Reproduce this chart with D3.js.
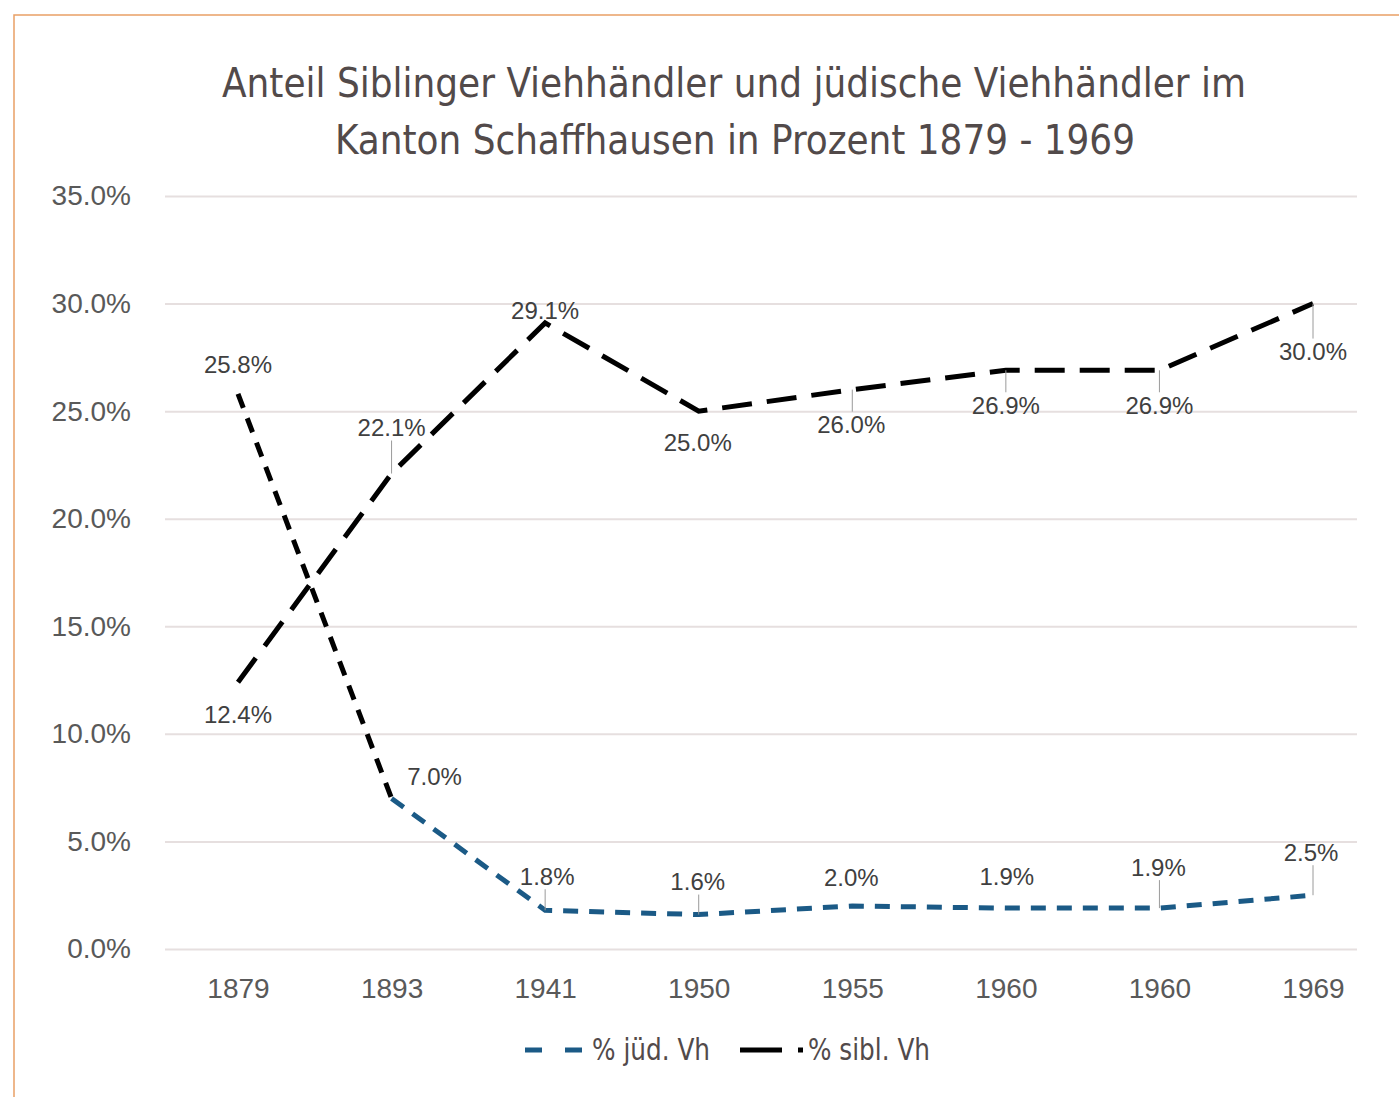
<!DOCTYPE html>
<html>
<head>
<meta charset="utf-8">
<script src="https://cdn.jsdelivr.net/npm/d3@7.9.0/dist/d3.min.js"></script>
<style>
  body { margin: 0; background: #fff; }
  svg { display: block; }
</style>
</head>
<body>
<svg width="1399" height="1097"></svg>
<script>
// data
const years = ['1879', '1893', '1941', '1950', '1955', '1960', '1960', '1969'];
const juedVh = [25.8, 7.0, 1.8, 1.6, 2.0, 1.9, 1.9, 2.5];
const siblVh = [12.4, 22.1, 29.1, 25.0, 26.0, 26.9, 26.9, 30.0];
const yTicks = [0, 5, 10, 15, 20, 25, 30, 35];

// label placement (offset of label centre from its point)
const juedOffsets = [[0, -29], [43, -22], [2, -34], [-1, -33], [-1, -28], [1, -32], [-1, -41], [-2, -43]];
const siblOffsets = [[0, 32], [0, -46], [0, -12], [-1, 31], [-1, 35], [0, 35], [0, 35], [0, 48]];

const svg = d3.select('svg');
const condensed = '"Liberation Sans Narrow", "DejaVu Sans Condensed", "Roboto", sans-serif';
const sans = '"Liberation Sans", Arial, sans-serif';

// orange frame
svg.append('path')
  .attr('d', 'M14,1097 V15 H1399')
  .attr('fill', 'none')
  .attr('stroke', '#e9a066')
  .attr('stroke-width', 1.5);

// title
const title = svg.append('g')
  .attr('font-family', condensed)
  .attr('font-size', 40)
  .attr('fill', '#524a4a')
  .attr('text-anchor', 'middle');
title.append('text').attr('x', 734).attr('y', 97)
  .attr('textLength', 1024).attr('lengthAdjust', 'spacingAndGlyphs')
  .text('Anteil Siblinger Viehhändler und jüdische Viehhändler im');
title.append('text').attr('x', 735).attr('y', 154)
  .attr('textLength', 800).attr('lengthAdjust', 'spacingAndGlyphs')
  .text('Kanton Schaffhausen in Prozent 1879 - 1969');

// scales
const x = d3.scalePoint().domain(d3.range(years.length)).range([238, 1313]);
const y = d3.scaleLinear().domain([0, 35]).range([949, 196]);

// y axis with gridlines
const yAxis = svg.append('g')
  .attr('transform', 'translate(165,0)')
  .call(d3.axisLeft(y).tickValues(yTicks).tickSize(-1192).tickPadding(34)
    .tickFormat(d => d.toFixed(1) + '%'));
yAxis.select('.domain').remove();
yAxis.selectAll('line').attr('stroke', '#e6dfdf').attr('stroke-width', 2);
yAxis.selectAll('text')
  .attr('font-family', sans)
  .attr('font-size', 28)
  .attr('fill', '#595959');

// x axis
const xAxis = svg.append('g')
  .attr('transform', 'translate(0,962)')
  .call(d3.axisBottom(x).tickSize(0).tickPadding(16).tickFormat(i => years[i]));
xAxis.select('.domain').remove();
xAxis.selectAll('text')
  .attr('font-family', sans)
  .attr('font-size', 28)
  .attr('fill', '#595959');

const line = d3.line().x((d, i) => x(d.i)).y(d => y(d.v));
const juedPts = juedVh.map((v, i) => ({ i, v }));
const siblPts = siblVh.map((v, i) => ({ i, v }));

const blue = '#1b5a86';

// jüd. line: first segment drawn black, rest blue
svg.append('path')
  .datum(juedPts.slice(0, 2))
  .attr('d', line)
  .attr('fill', 'none')
  .attr('stroke', '#000')
  .attr('stroke-width', 5)
  .attr('stroke-dasharray', '15,11');
svg.append('path')
  .datum(juedPts.slice(1))
  .attr('d', line)
  .attr('fill', 'none')
  .attr('stroke', blue)
  .attr('stroke-width', 5)
  .attr('stroke-dasharray', '15,11');

// sibl. line
svg.append('path')
  .datum(siblPts)
  .attr('d', line)
  .attr('fill', 'none')
  .attr('stroke', '#000')
  .attr('stroke-width', 5)
  .attr('stroke-dasharray', '30,15');

// data labels with leader lines
function drawLabels(pts, offsets) {
  const g = svg.append('g');
  pts.forEach((d, k) => {
    const px = x(d.i), py = y(d.v);
    const [dx, dy] = offsets[k];
    const lx = px + dx, ly = py + dy;
    if (Math.abs(dy) > 32.5 && Math.abs(dx) < 10) {
      const end = dy < 0 ? ly + 13 : ly - 13;
      g.append('line')
        .attr('x1', px).attr('y1', py)
        .attr('x2', px).attr('y2', end)
        .attr('stroke', '#9a9a9a')
        .attr('stroke-width', 1);
    }
    g.append('text')
      .attr('x', lx).attr('y', ly)
      .attr('dy', '0.35em')
      .attr('text-anchor', 'middle')
      .attr('font-family', sans)
      .attr('font-size', 24)
      .attr('fill', '#404040')
      .text(d.v.toFixed(1) + '%');
  });
}
drawLabels(juedPts, juedOffsets);
drawLabels(siblPts, siblOffsets);

// legend
const legend = svg.append('g');
legend.append('line')
  .attr('x1', 525).attr('x2', 582).attr('y1', 1050).attr('y2', 1050)
  .attr('stroke', blue).attr('stroke-width', 5)
  .attr('stroke-dasharray', '17,23');
legend.append('text')
  .attr('x', 592).attr('y', 1060)
  .attr('font-family', condensed).attr('font-size', 30).attr('fill', '#524a4a')
  .attr('textLength', 118).attr('lengthAdjust', 'spacingAndGlyphs')
  .text('% jüd. Vh');
legend.append('line')
  .attr('x1', 740).attr('x2', 803).attr('y1', 1050).attr('y2', 1050)
  .attr('stroke', '#000').attr('stroke-width', 5)
  .attr('stroke-dasharray', '42,16');
legend.append('text')
  .attr('x', 808).attr('y', 1060)
  .attr('font-family', condensed).attr('font-size', 30).attr('fill', '#524a4a')
  .attr('textLength', 122).attr('lengthAdjust', 'spacingAndGlyphs')
  .text('% sibl. Vh');
</script>
</body>
</html>
